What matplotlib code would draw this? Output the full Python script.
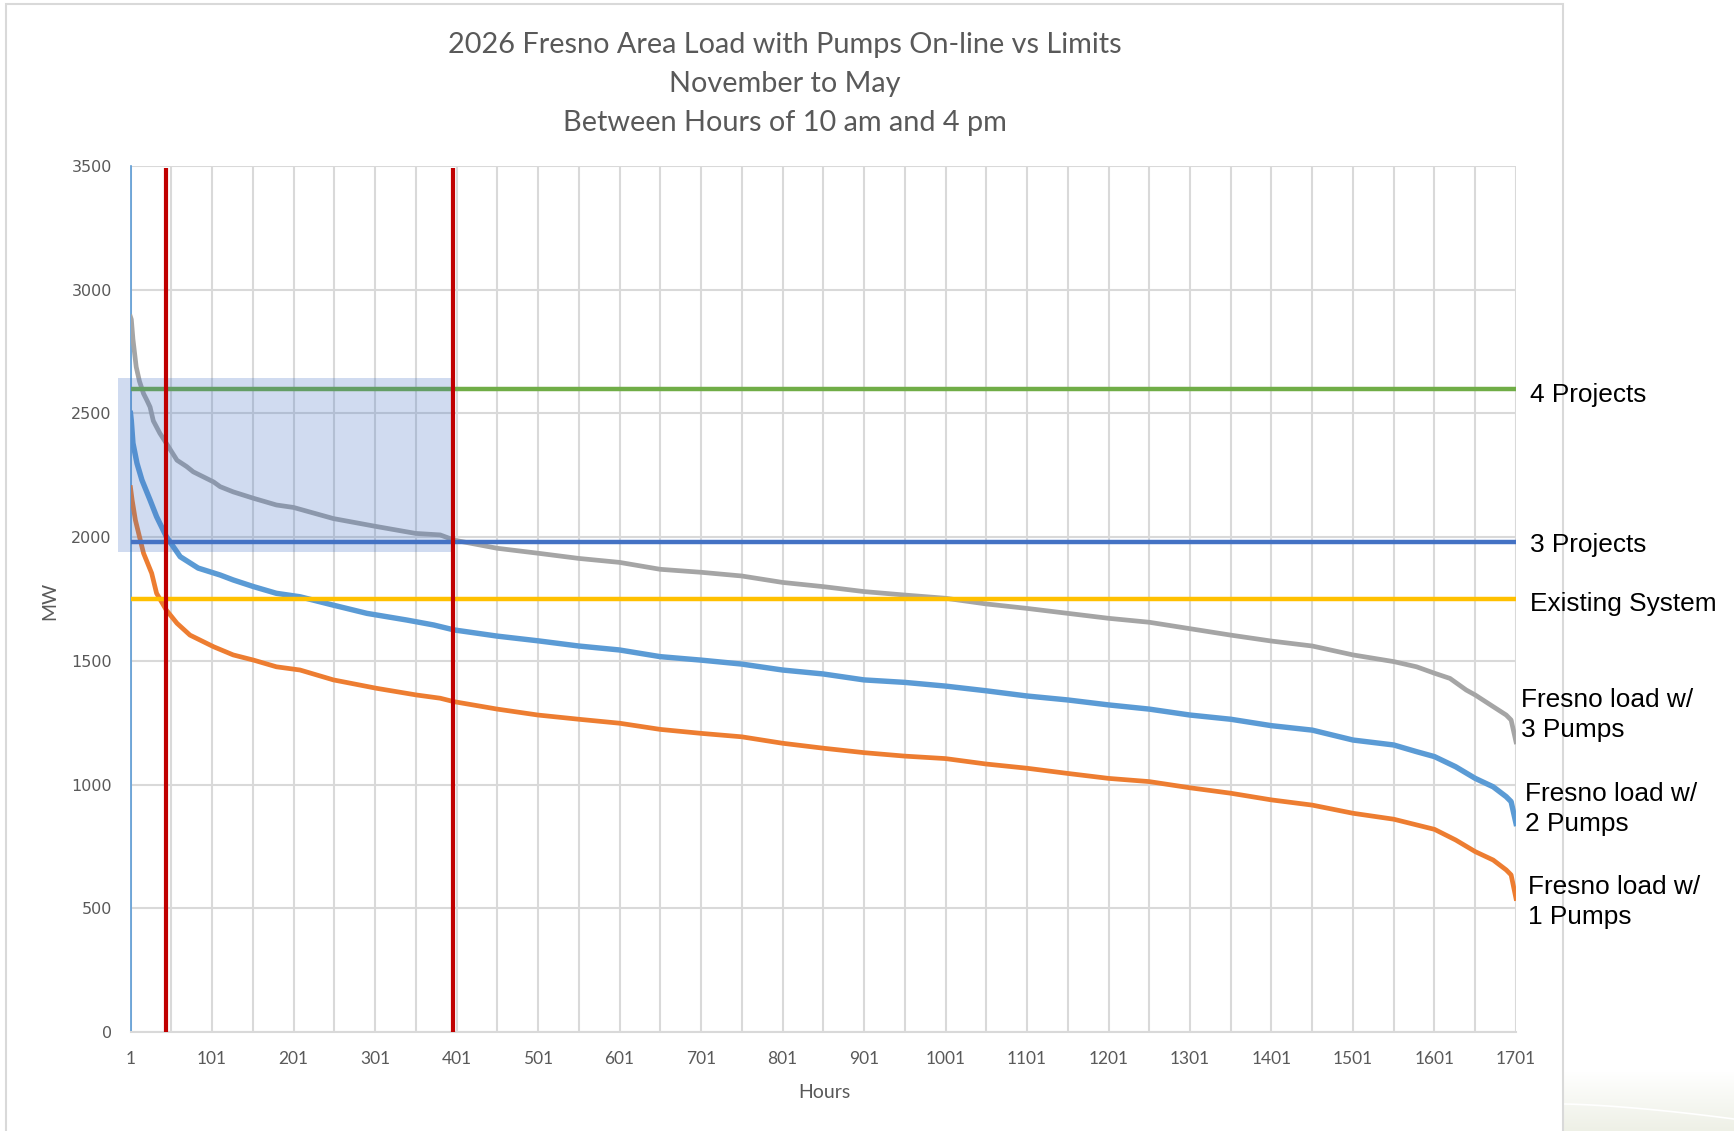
import matplotlib
matplotlib.use("Agg")
import matplotlib.pyplot as plt
import numpy as np
from matplotlib.patches import Rectangle

# ---- load-duration data (MW by ranked hour) ----
hours_3p = [1, 2, 4, 8, 12, 17, 21, 25, 29, 37, 45, 58, 70, 78, 103, 111, 127, 152, 180,
            201, 250, 301, 351, 381, 398, 451, 501, 551, 601, 651, 701, 751, 801, 851, 901,
            951, 1001, 1051, 1101, 1151, 1201, 1251, 1301, 1351, 1401, 1451, 1501, 1551,
            1579, 1601, 1620, 1640, 1651, 1673, 1689, 1695, 1701]
load_3p = [2890, 2880, 2800, 2688, 2630, 2580, 2554, 2526, 2470, 2420, 2379, 2311, 2285,
           2264, 2223, 2204, 2183, 2157, 2130, 2120, 2075, 2044, 2015, 2009, 1988, 1955,
           1935, 1914, 1898, 1870, 1858, 1843, 1817, 1800, 1780, 1766, 1753, 1730, 1712,
           1692, 1672, 1656, 1630, 1604, 1580, 1560, 1524, 1497, 1476, 1450, 1429, 1382,
           1362, 1315, 1281, 1261, 1173]

hours_2p = [1, 2, 4, 9, 15, 25, 33, 45, 62, 84, 111, 127, 152, 180, 209, 250, 291, 340,
            373, 398, 451, 501, 551, 601, 651, 701, 751, 801, 851, 901, 951, 1001, 1051,
            1101, 1151, 1201, 1251, 1301, 1351, 1401, 1451, 1501, 1551, 1579, 1601, 1627,
            1651, 1673, 1689, 1695, 1701]
load_2p = [2500, 2470, 2380, 2298, 2231, 2150, 2083, 2002, 1921, 1875, 1847, 1827, 1800,
           1773, 1759, 1725, 1692, 1665, 1645, 1625, 1600, 1581, 1560, 1544, 1517, 1503,
           1487, 1463, 1447, 1423, 1413, 1398, 1379, 1358, 1342, 1322, 1305, 1281, 1264,
           1238, 1220, 1180, 1160, 1133, 1113, 1072, 1025, 991, 951, 931, 843]

hours_1p = [1, 3, 7, 17, 27, 33, 45, 58, 74, 103, 127, 152, 180, 209, 250, 303, 352, 381,
            398, 451, 501, 551, 601, 651, 701, 751, 801, 851, 901, 951, 1001, 1051, 1101,
            1151, 1201, 1251, 1301, 1351, 1401, 1451, 1501, 1551, 1579, 1601, 1627, 1651,
            1673, 1689, 1695, 1701]
load_1p = [2200, 2150, 2069, 1935, 1854, 1773, 1705, 1652, 1604, 1557, 1524, 1503, 1476,
           1463, 1423, 1389, 1362, 1349, 1335, 1305, 1281, 1264, 1248, 1223, 1207, 1193,
           1167, 1147, 1129, 1115, 1105, 1083, 1066, 1045, 1025, 1012, 987, 965, 938, 917,
           884, 860, 837, 819, 776, 729, 695, 655, 635, 540]

# transfer limits (MW)
limit_names = ["4 Projects", "3 Projects", "Existing System"]
limit_values = [2600, 1980, 1750]
limit_colors = ["#70AD47", "#4472C4", "#FFC000"]

series_labels = ["Fresno load w/\n3 Pumps", "Fresno load w/\n2 Pumps", "Fresno load w/\n1 Pumps"]

# marker hours and highlighted window
marker_hours = [45, 397]
window_hours = (-14, 397)
window_mw = (1940, 2645)

x_ticks = list(range(1, 1702, 100))
y_ticks = list(range(0, 3501, 500))

W, H = 1734, 1131
fig = plt.figure(figsize=(W / 100, H / 100), dpi=100)
fig.patch.set_facecolor("white")

# soft slide background in the lower right corner
bg = fig.add_axes([1563 / W, 0, (W - 1563) / W, 60 / H], zorder=-5)
grad = np.linspace(0, 1, 60)[:, None] * np.ones((1, 50))
bg.imshow(grad, cmap=matplotlib.colors.LinearSegmentedColormap.from_list(
    "bgfade", ["#FFFFFF", "#EEF0E6"]), aspect="auto", origin="upper", extent=(0, 1, 0, 1))
xx = np.linspace(0, 1, 50)
bg.plot(xx, 0.45 - 0.25 * xx ** 1.5, color="white", lw=1.2)
bg.set_xlim(0, 1)
bg.set_ylim(0, 1)
bg.axis("off")

ax = fig.add_axes([130.5 / W, 1 - 1032 / H, (1516 - 130.5) / W, (1032 - 166) / H])
ax.set_xlim(1, 1701)
ax.set_ylim(0, 3500)

grid_c = "#D9D9D9"
ax.set_xticks(x_ticks)
ax.set_xticks(list(range(51, 1702, 100)), minor=True)
ax.set_yticks(y_ticks)
ax.grid(which="both", axis="x", color=grid_c, lw=1.5, zorder=0)
ax.grid(which="major", axis="y", color=grid_c, lw=1.5, zorder=0)
ax.set_axisbelow(True)
for s in ("top", "right"):
    ax.spines[s].set_visible(False)
ax.spines["bottom"].set_color(grid_c)
ax.spines["bottom"].set_linewidth(1.5)
ax.spines["left"].set_color("#5B9BD5")
ax.spines["left"].set_linewidth(1.2)
ax.tick_params(which="both", length=0)
ax.tick_params(axis="x", pad=14, labelsize=12.5, labelcolor="#595959")
ax.tick_params(axis="y", pad=13.5, labelsize=11.5, labelcolor="#595959")
for lab in ax.get_xticklabels():
    lab.set_fontfamily("Lato")
for lab in ax.get_yticklabels():
    lab.set_fontfamily("DejaVu Sans")

# load curves
lw = 3.4
ax.plot(hours_3p, load_3p, color="#A5A5A5", lw=lw, solid_joinstyle="round", zorder=3)
ax.plot(hours_2p, load_2p, color="#5B9BD5", lw=lw + 0.5, solid_joinstyle="round", zorder=3)
ax.plot(hours_1p, load_1p, color="#ED7D31", lw=lw, solid_joinstyle="round", zorder=3)

# limit lines
for val, col in zip(limit_values, limit_colors):
    ax.hlines(val, 1, 1701, colors=col, lw=3.2, zorder=4)

# highlighted window
ax.add_patch(Rectangle((window_hours[0], window_mw[0]),
                       window_hours[1] - window_hours[0], window_mw[1] - window_mw[0],
                       facecolor="#4472C4", alpha=0.25, edgecolor="none",
                       clip_on=False, zorder=5))

# marker lines
ax.vlines(marker_hours, 0, 3490, colors="#C00000", lw=3.0, zorder=6)

# right-hand labels
lab_font = dict(family="Liberation Sans", fontsize=18.9, color="black", va="center", ha="left")
fig.text(1530.5 / W, 1 - 395.5 / H, limit_names[0], **lab_font)
fig.text(1530.5 / W, 1 - 545 / H, limit_names[1], **lab_font)
fig.text(1529.5 / W, 1 - 604.5 / H, limit_names[2], **lab_font)
fig.text(1520.6 / W, 1 - 715 / H, series_labels[0], linespacing=1.36, **lab_font)
fig.text(1525 / W, 1 - 809 / H, series_labels[1], linespacing=1.36, **lab_font)
fig.text(1528 / W, 1 - 902 / H, series_labels[2], linespacing=1.36, **lab_font)

# title
title_lines = ["2026 Fresno Area Load with Pumps On-line vs Limits",
               "November to May",
               "Between Hours of 10 am and 4 pm"]
for txt, yp in zip(title_lines, [45.5, 84.2, 122.9]):
    fig.text(785 / W, 1 - yp / H, txt, ha="center", va="center",
             family="Lato", fontsize=20.8, color="#595959")

# axis titles
fig.text(824 / W, 1 - 1092.5 / H, "Hours", ha="center", va="center",
         family="Lato", fontsize=14, color="#595959")
fig.text(50 / W, 1 - 601 / H, "MW", ha="center", va="center", rotation=90,
         family="Lato", fontsize=14, color="#595959")

# chart frame
fig.add_artist(Rectangle((6 / W, -0.02), (1563 - 6) / W, 1 - 4 / H + 0.02,
                         transform=fig.transFigure, fill=False,
                         edgecolor="#D9D9D9", lw=1.5))

fig.savefig("out.png", dpi=100, facecolor="white")
